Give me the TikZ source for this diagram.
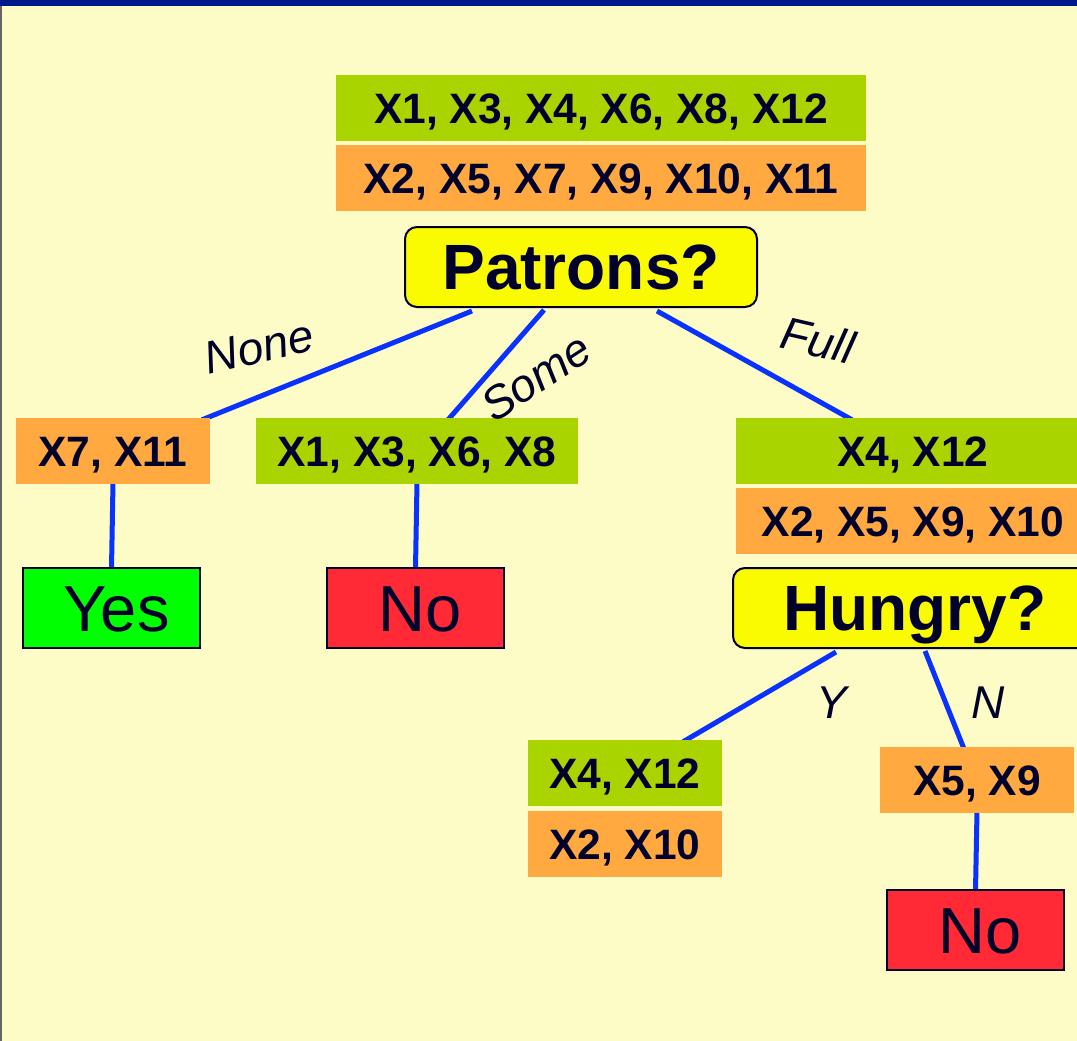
\documentclass[tikz,border=0pt]{standalone}
\usepackage{fontspec}
\setmainfont{Liberation Sans}
\usetikzlibrary{backgrounds}
\definecolor{bgc}{HTML}{FDFCC6}
\definecolor{barc}{HTML}{00198A}
\definecolor{greenc}{HTML}{AAD400}
\definecolor{orangec}{HTML}{FFA940}
\definecolor{yellowc}{HTML}{FAFA00}
\definecolor{yesc}{HTML}{00FF00}
\definecolor{noc}{HTML}{FF2A35}
\definecolor{linec}{HTML}{0A32FF}
\definecolor{txtc}{HTML}{00002A}
\tikzset{
  setbox/.style={inner sep=0pt, minimum height=66pt, text=txtc,
     text height=30.4pt, text depth=0pt,
     font=\fontsize{42.5}{48}\selectfont\bfseries},
  gset/.style={setbox, fill=greenc},
  oset/.style={setbox, fill=orangec},
  question/.style={draw=txtc, line width=2pt, fill=yellowc, rounded corners=12pt,
     minimum height=80pt, inner sep=0pt, text=txtc, text height=45.5pt, text depth=0pt,
     font=\fontsize{64}{70}\selectfont\bfseries},
  leaf/.style={draw=txtc, line width=2pt, minimum height=80pt, minimum width=177pt,
     inner sep=0pt, text=txtc, text height=46.5pt, text depth=0pt,
     font=\fontsize{65}{70}\selectfont},
  branch/.style={draw=linec, line width=5pt},
  blabel/.style={text=txtc, font=\fontsize{46}{50}\selectfont\itshape, inner sep=0pt}
}
\begin{document}
\begin{tikzpicture}[x=1pt,y=-1pt]
\useasboundingbox (0,0) rectangle (1077,1041);
% nodes
\node[gset, minimum width=530pt] (g0) at (601,108) {X1, X3, X4, X6, X8, X12};
\node[oset, minimum width=530pt] (o0) at (601,178) {X2, X5, X7, X9, X10, X11};
\node[question, minimum width=352pt] (patrons) at (581,267) {Patrons?};
\node[oset, minimum width=194pt] (x711) at (113,451) {X7, X11};
\node[gset, minimum width=322pt] (x1368) at (417,451) {X1, X3, X6, X8};
\node[gset, minimum width=354pt] (x412) at (913,451) {X4, X12};
\node[oset, minimum width=354pt] (x25910) at (913,521) {X2, X5, X9, X10};
\node[question, minimum width=364pt] (hungry) at (915,608) {Hungry?};
\node[leaf, fill=yesc] (yes) at (111.5,608) {\hspace*{10pt}Yes};
\node[leaf, fill=noc] (no1) at (415.5,608) {\hspace*{9pt}No};
\node[gset, minimum width=194pt] (y412) at (625,773) {X4, X12};
\node[oset, minimum width=194pt] (y210) at (625,844) {X2, X10};
\node[oset, minimum width=194pt] (x59) at (977,780) {X5, X9};
\node[leaf, fill=noc] (no2) at (975.5,930) {\hspace*{9pt}No};
% labels
\node[blabel, rotate=13] (lnone) at (259,347) {None};
\node[blabel, rotate=33] (lsome) at (536,377) {Some};
\node[blabel, rotate=-13] (lfull) at (818,340) {Full};
\node[blabel] (ly) at (832,703) {Y};
\node[blabel] (ln) at (988,703) {N};
\begin{scope}[on background layer]
  \fill[bgc] (0,0) rectangle (1077,1041);
  \fill[barc] (0,0) rectangle (1077,6);
  \fill[black!60] (0,6) rectangle (1.5,1041);
  \draw[branch] ([xshift=-109pt,yshift=-3pt]patrons.south) -- ([xshift=89pt,yshift=-2pt]x711.north);
  \draw[branch] ([xshift=-37pt,yshift=-2pt]patrons.south) -- ([xshift=31pt,yshift=-2pt]x1368.north);
  \draw[branch] ([xshift=76pt,yshift=-3pt]patrons.south) -- ([xshift=-61pt,yshift=-2pt]x412.north);
  \draw[branch] ([yshift=2pt]x711.south) -- ([yshift=-2pt]yes.north);
  \draw[branch] ([yshift=2pt]x1368.south) -- ([yshift=-2pt]no1.north);
  \draw[branch] ([xshift=-79pt,yshift=-3pt]hungry.south) -- ([xshift=58pt,yshift=-2pt]y412.north);
  \draw[branch] ([xshift=10pt,yshift=-2pt]hungry.south) -- ([xshift=-13pt,yshift=-2pt]x59.north);
  \draw[branch] ([yshift=2pt]x59.south) -- ([yshift=-2pt]no2.north);
\end{scope}
\end{tikzpicture}
\end{document}
